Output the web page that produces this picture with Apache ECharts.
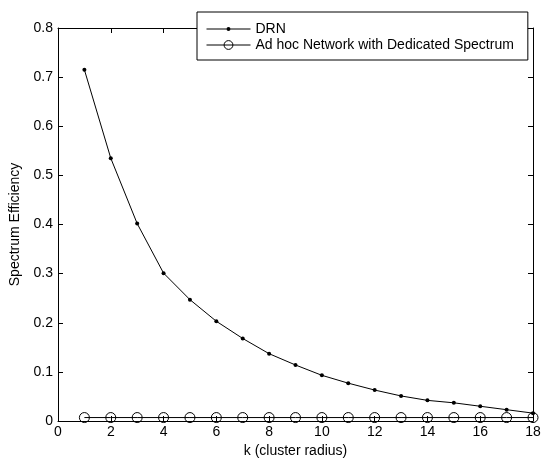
<!DOCTYPE html>
<html>
<head>
<meta charset="utf-8">
<script src="https://cdn.jsdelivr.net/npm/echarts@6/dist/echarts.min.js"></script>
<style>
  html, body { margin: 0; padding: 0; background: #fff; }
  #main { width: 542px; height: 460px; }
</style>
</head>
<body>
<div id="main"></div>
<script>
// data
const kValues = [1, 2, 3, 4, 5, 6, 7, 8, 9, 10, 11, 12, 13, 14, 15, 16, 17, 18]
const drn = [0.715, 0.535, 0.402, 0.301, 0.247, 0.203, 0.168, 0.137, 0.114, 0.093,
  0.077, 0.063, 0.051, 0.042, 0.037, 0.030, 0.023, 0.016]
const adhoc = [0.007, 0.007, 0.007, 0.007, 0.007, 0.007, 0.007, 0.007, 0.007, 0.007,
  0.007, 0.007, 0.007, 0.007, 0.007, 0.007, 0.007, 0.007]

const font = "Liberation Sans, Arial, sans-serif"

const axisCommon = {
  axisLine: { show: true, onZero: false, lineStyle: { color: "#000", width: 1 } },
  axisTick: { show: true, inside: true, length: 5, lineStyle: { color: "#000" } },
  splitLine: { show: false },
}

// legend icon: thin line with a small dot in the middle (44 x 11 box)
const dotLineIcon = "path://M0,0 M44,11 M0,5 H44 V6 H0 Z M24,5.5 A2,2 0 1,1 20,5.5 A2,2 0 1,1 24,5.5 Z"

const options = {
  animation: false,
  backgroundColor: "#fff",
  textStyle: { fontFamily: font },
  grid: { left: 58, right: 9, top: 28, bottom: 39, containLabel: false, outerBoundsMode: "none" },
  legend: {
    orient: "vertical",
    left: 197,
    top: 12,
    padding: [10, 14, 8, 9],
    itemWidth: 44,
    itemHeight: 11,
    itemGap: 2,
    backgroundColor: "#fff",
    borderColor: "#000",
    borderWidth: 1,
    borderRadius: 0,
    lineStyle: { width: 1 },
    itemStyle: { borderWidth: 1 },
    textStyle: { fontFamily: font, fontSize: 14, color: "#000" },
    data: [
      { name: "DRN", icon: dotLineIcon },
      { name: "Ad hoc Network with Dedicated Spectrum" },
    ],
  },
  xAxis: [
    {
      ...axisCommon,
      type: "value",
      min: 0, max: 18, interval: 2,
      name: "k (cluster radius)",
      nameLocation: "middle",
      nameGap: 19,
      nameTextStyle: { fontFamily: font, fontSize: 14, color: "#000" },
      axisLabel: { fontFamily: font, fontSize: 14, color: "#000", margin: 4 },
    },
    {
      ...axisCommon,
      type: "value", position: "top",
      min: 0, max: 18, interval: 2,
      axisLabel: { show: false },
    },
  ],
  yAxis: [
    {
      ...axisCommon,
      type: "value",
      min: 0, max: 0.8, interval: 0.1,
      name: "Spectrum Efficiency",
      nameLocation: "middle",
      nameGap: 32,
      nameTextStyle: { fontFamily: font, fontSize: 14, color: "#000" },
      axisLabel: { fontFamily: font, fontSize: 14, color: "#000", margin: 5 },
    },
    {
      ...axisCommon,
      type: "value", position: "right",
      min: 0, max: 0.8, interval: 0.1,
      axisLabel: { show: false },
    },
  ],
  series: [
    {
      name: "DRN",
      type: "line",
      data: kValues.map((k, i) => [k, drn[i]]),
      symbol: "circle",
      symbolSize: 4,
      showAllSymbol: true,
      itemStyle: { color: "#000" },
      lineStyle: { color: "#000", width: 1 },
    },
    {
      name: "Ad hoc Network with Dedicated Spectrum",
      type: "line",
      data: kValues.map((k, i) => [k, adhoc[i]]),
      symbol: "circle",
      symbolSize: 10,
      showAllSymbol: true,
      itemStyle: { color: "rgba(0,0,0,0)", borderColor: "#000", borderWidth: 1 },
      lineStyle: { color: "#000", width: 1 },
    },
  ],
}

const myChart = echarts.init(document.getElementById("main"))
myChart.setOption(options)
window.onresize = () => myChart.resize()
</script>
</body>
</html>
